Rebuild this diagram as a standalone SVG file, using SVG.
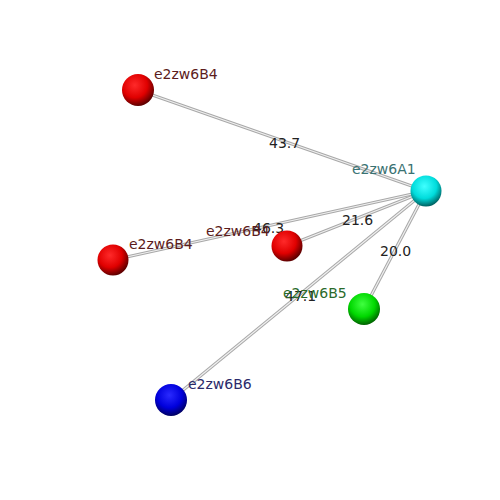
<svg xmlns="http://www.w3.org/2000/svg" width="500" height="500" viewBox="0 0 500 500">
<defs>
<radialGradient id="gr" cx="0.4" cy="0.35" r="0.65"><stop offset="0" stop-color="#ff2a2a"/><stop offset="0.6" stop-color="#e00000"/><stop offset="1" stop-color="#600000"/></radialGradient>
<radialGradient id="gc" cx="0.45" cy="0.35" r="0.65"><stop offset="0" stop-color="#40ffff"/><stop offset="0.6" stop-color="#00dcdc"/><stop offset="1" stop-color="#006060"/></radialGradient>
<radialGradient id="gg" cx="0.45" cy="0.35" r="0.65"><stop offset="0" stop-color="#40ff40"/><stop offset="0.6" stop-color="#00d800"/><stop offset="1" stop-color="#006000"/></radialGradient>
<radialGradient id="gb" cx="0.45" cy="0.35" r="0.65"><stop offset="0" stop-color="#2a2aff"/><stop offset="0.6" stop-color="#0000dc"/><stop offset="1" stop-color="#000060"/></radialGradient>
<style>
.eo{stroke:#a8a8a8;stroke-width:3.2;fill:none}
.ei{stroke:#f0f0f0;stroke-width:1.2;fill:none}
text{font-family:"DejaVu Sans",sans-serif;font-size:14px}
.el{fill:#222}
</style>
</defs>
<rect width="500" height="500" fill="#fff"/>
<g id="edges">
<line class="eo" x1="426" y1="191" x2="138" y2="90"/><line class="ei" x1="426" y1="191" x2="138" y2="90"/>
<line class="eo" x1="426" y1="191" x2="113" y2="260"/><line class="ei" x1="426" y1="191" x2="113" y2="260"/>
<line class="eo" x1="426" y1="191" x2="287" y2="246"/><line class="ei" x1="426" y1="191" x2="287" y2="246"/>
<line class="eo" x1="426" y1="191" x2="364" y2="309"/><line class="ei" x1="426" y1="191" x2="364" y2="309"/>
<line class="eo" x1="426" y1="191" x2="171" y2="400"/><line class="ei" x1="426" y1="191" x2="171" y2="400"/>
<text class="el" x="269" y="148">43.7</text>
<text class="el" x="253" y="233">46.3</text>
<text class="el" x="342" y="225">21.6</text>
<text class="el" x="380" y="256">20.0</text>
<text class="el" x="285" y="301">47.1</text>
</g>
<g id="B4a"><circle cx="138" cy="90" r="16" fill="url(#gr)"/><text x="154" y="79" fill="#5c1c1c">e2zw6B4</text></g>
<g id="B4b"><circle cx="113" cy="260" r="15.5" fill="url(#gr)"/><text x="129" y="249" fill="#5c1c1c">e2zw6B4</text></g>
<g id="B4c"><circle cx="287" cy="246" r="15.5" fill="url(#gr)"/><text x="206" y="236" fill="#5c1c1c">e2zw6B4</text></g>
<g id="A1"><circle cx="426" cy="191" r="15.5" fill="url(#gc)"/><text x="352" y="174" fill="#3a7272">e2zw6A1</text></g>
<g id="B5"><circle cx="364" cy="309" r="16" fill="url(#gg)"/><text x="283" y="298" fill="#2a6a2a">e2zw6B5</text></g>
<g id="B6"><circle cx="171" cy="400" r="16" fill="url(#gb)"/><text x="188" y="389" fill="#2a2a6a">e2zw6B6</text></g>
</svg>
